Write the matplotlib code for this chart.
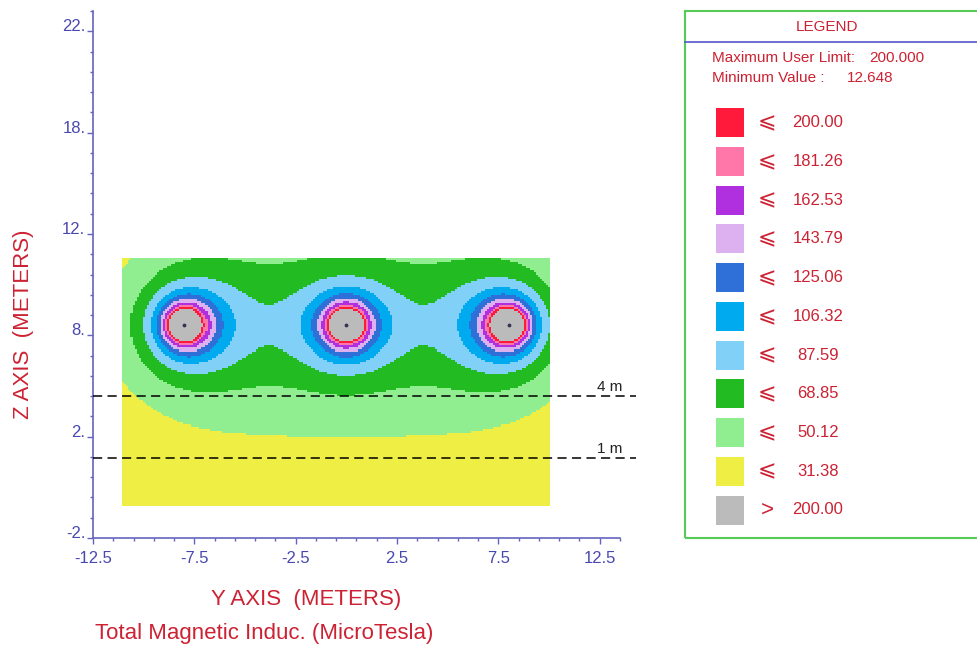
import numpy as np
import matplotlib
matplotlib.use("Agg")
import matplotlib.pyplot as plt
from matplotlib.colors import ListedColormap, BoundaryNorm
from matplotlib.patches import Rectangle
from matplotlib.lines import Line2D

plt.rcParams['font.family'] = ['Liberation Sans', 'DejaVu Sans']

# Conductor layout (m) and phase currents (A, degrees)
cond_y = [-8.0, 0.0, 8.0]
cond_z = [8.0, 8.0, 8.0]
cond_phase = [0.0, -120.0, 120.0]
cond_current = [825.0, 825.0, 825.0]

# Calculation area (m)
area_y = [-11.0, 10.0]
area_z = [-0.85, 11.25]
grid_step = 0.1

# Profile lines
profile_z = [4.5, 1.45]
profile_labels = ['4 m', '1 m']

# Colour bands (MicroTesla)
band_edges = [12.648, 31.38, 50.12, 68.85, 87.59, 106.32, 125.06, 143.79, 162.53, 181.26, 200.00]
band_colors = ['#EEEE44', '#90EE90', '#22BB22', '#80D0F8', '#00AAEE',
               '#2E70D8', '#DDB0F0', '#B030E0', '#FF77A8', '#FF1A3C']
over_color = '#BBBBBB'
max_user_limit = '200.000'
min_value = '12.648'

x_ticks = [-12.5, -7.5, -2.5, 2.5, 7.5, 12.5]
x_tick_labels = ['-12.5', '-7.5', '-2.5', '2.5', '7.5', '12.5']
z_ticks = [-2.5, 2.5, 7.5, 12.5, 17.5, 22.5]
z_tick_labels = ['-2.', '2.', '8.', '12.', '18.', '22.']

RED = '#CC2233'
AXIS_BLUE = '#4848B0'

W, H = 978, 649


def fx(px):
    return px / W


def fy(py):
    return 1 - py / H


# field of the three-phase circuit
ys = np.arange(area_y[0], area_y[1] + 1e-9, grid_step)
zs = np.arange(area_z[0], area_z[1] + 1e-9, grid_step)
Y, Z = np.meshgrid(ys, zs)
By = np.zeros(Y.shape, dtype=complex)
Bz = np.zeros(Y.shape, dtype=complex)
for y0, z0, ph, cur in zip(cond_y, cond_z, cond_phase, cond_current):
    dy = Y - y0
    dz = Z - z0
    r2 = np.maximum(dy ** 2 + dz ** 2, 1e-6)
    I = cur * np.exp(1j * np.deg2rad(ph))
    By += -0.2 * I * dz / r2
    Bz += 0.2 * I * dy / r2
B = np.sqrt(np.abs(By) ** 2 + np.abs(Bz) ** 2)

cmap = ListedColormap(band_colors)
cmap.set_over(over_color)
cmap.set_under(band_colors[0])
norm = BoundaryNorm(band_edges, cmap.N)

fig = plt.figure(figsize=(W / 100, H / 100), dpi=100)
ax = fig.add_axes([fx(93), fy(538), 527 / W, 527 / H])

ax.pcolormesh(ys, zs, B, cmap=cmap, norm=norm, shading='nearest')
ax.scatter(cond_y, cond_z, s=3, color='#333355', zorder=3)

for zl, lab in zip(profile_z, profile_labels):
    ax.plot([-12.5, 14.3], [zl, zl], color='black', lw=1.1,
            ls=(0, (6, 3.5)), clip_on=False, zorder=4)
    ax.text(13.0, zl + 0.12, lab, ha='center', va='bottom', fontsize=11,
            color='#222222', clip_on=False)

ax.set_xlim(-12.5, 13.5)
ax.set_ylim(-2.5, 23.5)
for side in ['top', 'right']:
    ax.spines[side].set_visible(False)
for side in ['left', 'bottom']:
    ax.spines[side].set_color('#6464C0')
    ax.spines[side].set_linewidth(1.2)

ax.set_xticks(x_ticks)
ax.set_xticklabels(x_tick_labels)
ax.set_xticks(np.arange(-11.5, 13.6, 1.0), minor=True)
ax.set_yticks(z_ticks)
ax.set_yticklabels(z_tick_labels)
ax.set_yticks(np.arange(-1.5, 23.6, 1.0), minor=True)
ax.tick_params(which='major', length=4.5, width=1, color='#6464C0',
               labelcolor=AXIS_BLUE, labelsize=12)
ax.tick_params(which='minor', length=2.2, width=1, color='#6464C0')
ax.tick_params(axis='x', which='major', pad=5)
ax.tick_params(axis='y', which='major', pad=1)
for lab in ax.get_yticklabels():
    lab.set_va('baseline')

fig.text(fx(306), fy(599), 'Y AXIS  (METERS)', ha='center', va='center',
         fontsize=16, color=RED)
fig.text(fx(24), fy(324), 'Z AXIS  (METERS)', ha='center', va='center',
         fontsize=16, color=RED, rotation=90)
fig.text(fx(95), fy(633), 'Total Magnetic Induc. (MicroTesla)', ha='left',
         va='center', fontsize=16, color=RED)

# legend panel
fig.add_artist(Rectangle((fx(685), fy(538)), fx(400), (538 - 11) / H,
                         transform=fig.transFigure, fill=False,
                         edgecolor='#55CC55', lw=1.5, clip_on=False))
fig.add_artist(Line2D([fx(685), 1.0], [fy(42), fy(42)],
                      transform=fig.transFigure, color='#5555CC', lw=1.2))
fig.text(fx(827), fy(27), 'LEGEND', ha='center', va='center',
         fontsize=11, color=RED)
fig.text(fx(712), fy(58), 'Maximum User Limit:', ha='left', va='center',
         fontsize=11, color=RED)
fig.text(fx(869), fy(58), max_user_limit, ha='left', va='center',
         fontsize=11, color=RED)
fig.text(fx(712), fy(78), 'Minimum Value :', ha='left', va='center',
         fontsize=11, color=RED)
fig.text(fx(847), fy(78), min_value, ha='left', va='center',
         fontsize=11, color=RED)

entries = [(c, '\u2a7d', f'{v:.2f}') for c, v in zip(band_colors[::-1], band_edges[::-1])]
entries.append((over_color, '>', f'{band_edges[-1]:.2f}'))
for i, (col, sym, txt) in enumerate(entries):
    yc = 122.7 + i * 38.73
    fig.add_artist(Rectangle((fx(716), fy(yc + 14.5)), 28 / W, 29 / H,
                             transform=fig.transFigure, facecolor=col,
                             edgecolor='none'))
    fig.text(fx(767), fy(yc), sym, ha='center', va='center', fontsize=16,
             color=RED)
    fig.text(fx(818), fy(yc), txt, ha='center', va='center', fontsize=12,
             color=RED)

fig.savefig('out.png', dpi=100)
